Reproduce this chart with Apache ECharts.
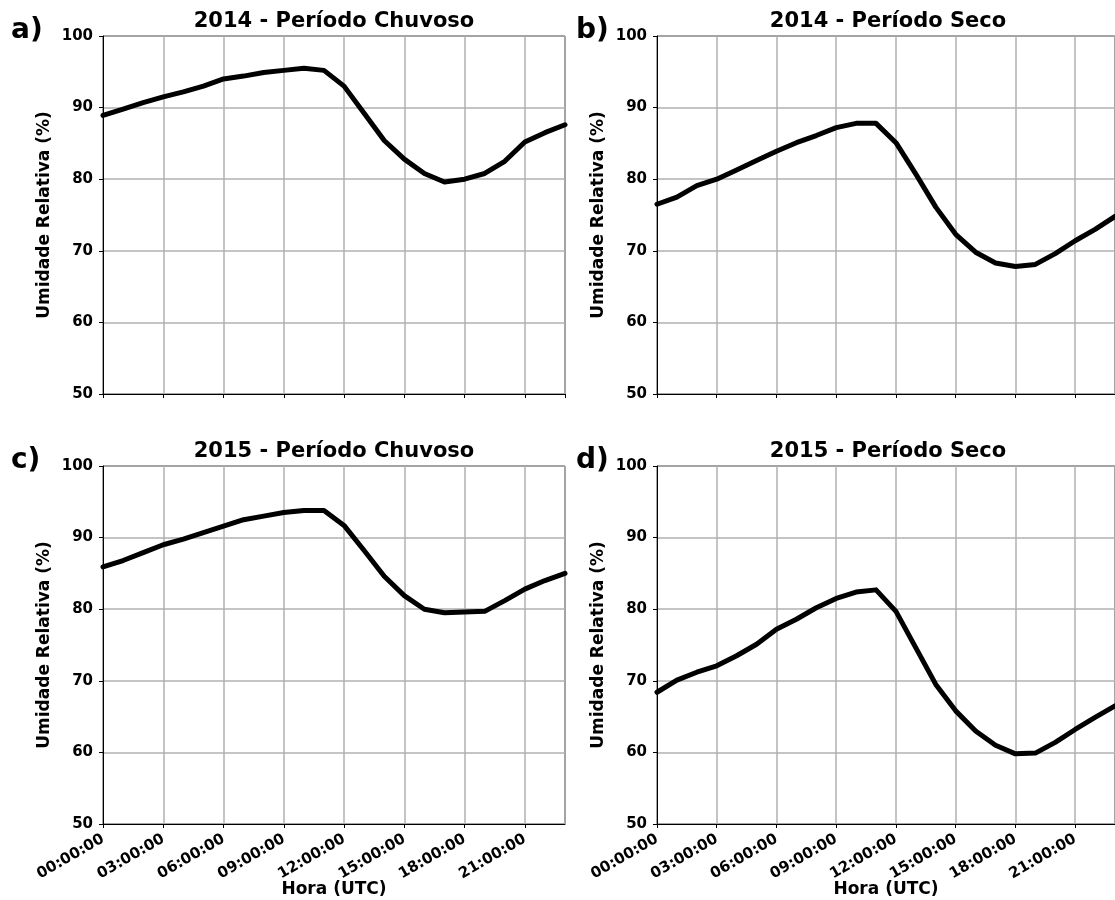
<!DOCTYPE html>
<html>
<head>
<meta charset="utf-8">
<script src="https://cdn.jsdelivr.net/npm/echarts@6/dist/echarts.min.js"></script>
<style>
html,body{margin:0;padding:0;background:#fff;}
#chart{width:1115px;height:900px;}
</style>
</head>
<body>
<div id="chart"></div>
<script>
// Hours (UTC) 0..23
const hours = [0,1,2,3,4,5,6,7,8,9,10,11,12,13,14,15,16,17,18,19,20,21,22,23];
const xTicks = [0,3,6,9,12,15,18,21];
const yTicks = [50,60,70,80,90,100];

const titles = ['2014 - Período Chuvoso','2014 - Período Seco','2015 - Período Chuvoso','2015 - Período Seco'];
const letters = ['a)','b)','c)','d)'];

const ur2014Chuvoso = [88.9,89.8,90.7,91.5,92.2,93.0,94.0,94.4,94.9,95.2,95.5,95.2,93.0,89.2,85.4,82.8,80.8,79.6,80.0,80.8,82.5,85.2,86.5,87.6];
const ur2014Seco    = [76.5,77.5,79.1,80.0,81.3,82.6,83.9,85.1,86.1,87.2,87.8,87.8,85.1,80.7,76.1,72.3,69.8,68.3,67.8,68.1,69.6,71.4,73.0,74.8];
const ur2015Chuvoso = [85.9,86.8,87.9,89.0,89.8,90.7,91.6,92.5,93.0,93.5,93.8,93.8,91.7,88.2,84.6,81.9,80.0,79.5,79.6,79.7,81.2,82.8,84.0,85.0];
const ur2015Seco    = [68.4,70.1,71.2,72.1,73.5,75.1,77.2,78.6,80.2,81.5,82.4,82.7,79.7,74.6,69.5,65.8,63.0,61.0,59.8,59.9,61.4,63.2,64.9,66.5];

const seriesData = [ur2014Chuvoso, ur2014Seco, ur2015Chuvoso, ur2015Seco];

const FONT = 'DejaVu Sans';
const gridBoxes = [
  {left:103, top:36},
  {left:657, top:36},
  {left:103, top:466},
  {left:657, top:466}
];
const GW = 462, GH = 358;

function pad(n){return (n<10?'0':'')+n;}

const grids = gridBoxes.map(g => ({
  left:g.left, top:g.top, width:GW, height:GH,
  show:true, borderColor:'#000', borderWidth:1, backgroundColor:'transparent'
}));

const xAxes = gridBoxes.map((g,i) => ({
  type:'value', gridIndex:i, min:0, max:23, interval:3,
  axisLine:{show:true, onZero:false, lineStyle:{color:'#000', width:1}},
  axisTick:{show:true, length:4, inside:false, lineStyle:{color:'#000'}},
  splitLine:{show:true, lineStyle:{color:'#b0b0b0', width:1.5}},
  axisLabel:{
    show: i>=2, rotate:30, fontFamily:FONT, fontWeight:'bold', fontSize:15, color:'#000', margin:14,
    showMaxLabel:false,
    formatter: v => xTicks.indexOf(v)>=0 ? pad(v)+':00:00' : ''
  },
  name: i>=2 ? 'Hora (UTC)' : '',
  nameLocation:'middle', nameGap:57, nameMoveOverlap:false,
  nameTextStyle:{fontFamily:FONT, fontWeight:'bold', fontSize:17, color:'#000'}
}));

const yAxes = gridBoxes.map((g,i) => ({
  type:'value', gridIndex:i, min:50, max:100, interval:10,
  axisLine:{show:true, lineStyle:{color:'#000', width:1}},
  axisTick:{show:true, length:4, lineStyle:{color:'#000'}},
  splitLine:{show:true, lineStyle:{color:'#b0b0b0', width:1.5}},
  axisLabel:{fontFamily:FONT, fontWeight:'bold', fontSize:15, color:'#000', margin:10,
    formatter: v => yTicks.indexOf(v)>=0 ? String(v) : ''},
  name:'Umidade Relativa (%)', nameLocation:'middle', nameGap:50, nameRotate:90, nameMoveOverlap:false,
  nameTextStyle:{fontFamily:FONT, fontWeight:'bold', fontSize:17, color:'#000'}
}));

const series = seriesData.map((d,i) => ({
  type:'line', xAxisIndex:i, yAxisIndex:i,
  data: hours.map((h,k) => [h, d[k]]),
  showSymbol:false, symbol:'none', smooth:false,
  lineStyle:{color:'#000', width:5, join:'round', cap:'round'},
  clip:true, animation:false
}));

const graphics = [];
gridBoxes.forEach((g,i) => {
  graphics.push({
    type:'text', x: g.left + GW/2, y: g.top - 14,
    style:{text:titles[i], font:'bold 21px "'+FONT+'"', fill:'#000', textAlign:'center', textVerticalAlign:'middle'}
  });
});
const letterPos = [[11,31],[576,31],[11,461],[576,461]];
letters.forEach((l,i) => {
  graphics.push({
    type:'text', x:letterPos[i][0], y:letterPos[i][1],
    style:{text:l, font:'bold 28px "'+FONT+'"', fill:'#000', textAlign:'left', textVerticalAlign:'middle'}
  });
});

const chart = echarts.init(document.getElementById('chart'), null, {renderer:'canvas'});
chart.setOption({
  animation:false,
  backgroundColor:'#fff',
  grid:grids, xAxis:xAxes, yAxis:yAxes, series:series,
  graphic:graphics
});
</script>
</body>
</html>
